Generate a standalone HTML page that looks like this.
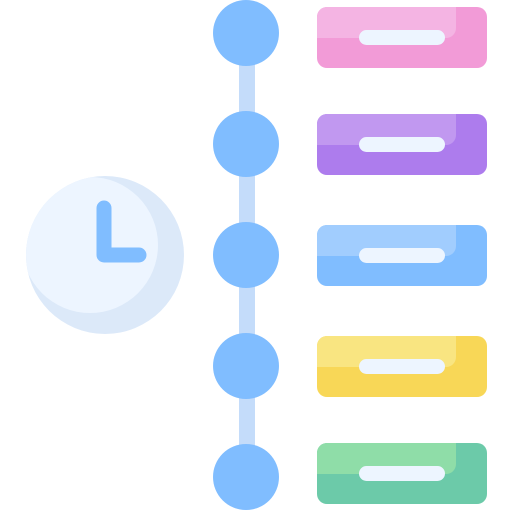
<!DOCTYPE html>
<html><head><meta charset="utf-8"><style>html,body{margin:0;padding:0;background:#fff}svg{display:block}</style></head>
<body>
<svg width="512" height="512" viewBox="0 0 512 512">
<defs><clipPath id="cc"><circle cx="105" cy="255" r="79"/></clipPath></defs>
<g>
<circle cx="105" cy="255" r="79" fill="#dce9f9"/>
<circle cx="90" cy="245" r="68" fill="#edf5ff" clip-path="url(#cc)"/>
<path d="M104 208 V255 H139" fill="none" stroke="#80bdff" stroke-width="15" stroke-linecap="round" stroke-linejoin="round"/>
</g>
<rect x="239" y="33" width="16" height="444" fill="#c4dcfa"/>
<g id="items"></g>
</svg>
<script>
const ys=[7,114,225,336,443];
const cys=[33,144,255,366,477];
const light=['#f4b4e3','#c198f0','#a1cdfe','#f9e581','#8fdda8'];
const dark=['#f29bd7','#ad7ced','#80bdff','#f8d757','#6ccaa9'];
const g=document.getElementById('items');
const ns='http://www.w3.org/2000/svg';
ys.forEach((y,i)=>{
 const grp=document.createElementNS(ns,'g');
 
 
 grp.innerHTML=`<circle cx="246" cy="${cys[i]}" r="33" fill="#80bdff"/>
 <rect x="317" y="${y}" width="170" height="61" rx="10" fill="${dark[i]}"/>
 <path d="M327 ${y} H456 V${y+21} a10 10 0 0 1 -10 10 H317 V${y+10} a10 10 0 0 1 10 -10 Z" fill="${light[i]}"/>
 <rect x="359" y="${y+23}" width="86" height="15" rx="7.5" fill="#edf5ff"/>`;
 g.appendChild(grp);
});
</script>
</body></html>
